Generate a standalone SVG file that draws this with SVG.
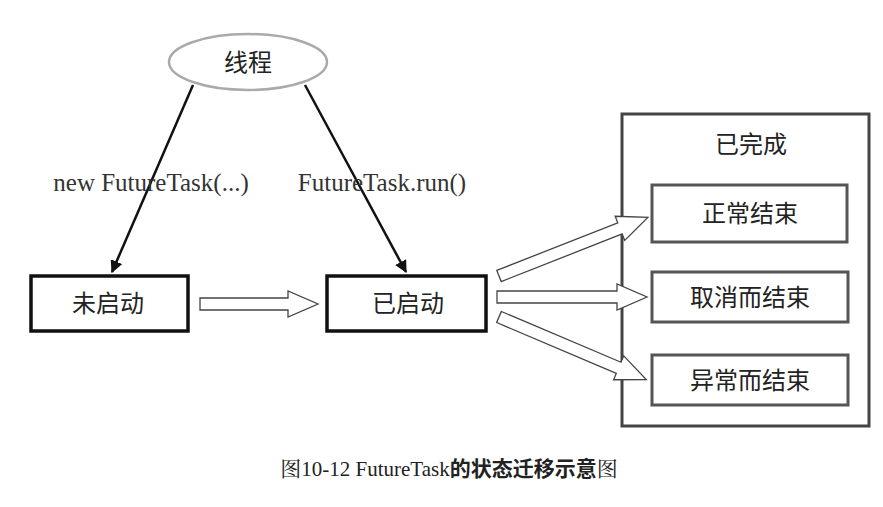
<svg xmlns="http://www.w3.org/2000/svg" width="883" height="507" viewBox="0 0 883 507">
<style>
.cn{font-family:"Liberation Sans","Noto Sans CJK SC",sans-serif;font-size:24px;fill:#222;text-anchor:middle}
.lb{font-family:"Liberation Serif","Noto Serif CJK SC",serif;font-size:25px;fill:#333;text-anchor:middle}
.st{fill:#fff;stroke:#111;stroke-width:3.5}
.in{fill:#fff;stroke:#555;stroke-width:3}
.blk{fill:#fff;stroke:#444;stroke-width:1.3}
</style>
<defs>
<marker id="ah" viewBox="0 0 10 10" refX="9" refY="5" markerWidth="5" markerHeight="5" orient="auto"><path d="M0,0L10,5L0,10z" fill="#111"/></marker>
</defs>
<rect width="883" height="507" fill="#fff"/>
<g id="thread"><ellipse cx="248" cy="62" rx="79" ry="28" fill="#fff" stroke="#aaa" stroke-width="2.5"/><text class="cn" x="248" y="71">线程</text></g>
<g id="notstarted"><rect class="st" x="31" y="276" width="157" height="55"/><text class="cn" x="108" y="312">未启动</text></g>
<g id="started"><rect class="st" x="327" y="276" width="159" height="55"/><text class="cn" x="408" y="312">已启动</text></g>
<g id="done"><rect x="622" y="114" width="247" height="312" fill="#fff" stroke="#444" stroke-width="3"/><text class="cn" x="751" y="153">已完成</text></g>
<g id="normal"><rect class="in" x="652" y="185" width="195" height="57"/><text class="cn" x="750" y="222">正常结束</text></g>
<g id="cancel"><rect class="in" x="652" y="272" width="196" height="50"/><text class="cn" x="750" y="306">取消而结束</text></g>
<g id="except"><rect class="in" x="652" y="355" width="196" height="50"/><text class="cn" x="750" y="389">异常而结束</text></g>
<g id="connectors">
<line x1="193" y1="85" x2="112" y2="272" stroke="#111" stroke-width="2.5" marker-end="url(#ah)"/>
<line x1="305" y1="85" x2="406" y2="272" stroke="#111" stroke-width="2.5" marker-end="url(#ah)"/>
<text class="lb" x="151" y="191">new FutureTask(...)</text>
<text class="lb" x="382" y="191">FutureTask.run()</text>
<polygon class="blk" transform="translate(200,304)" points="0,-6 88,-6 88,-13 118,0 88,13 88,6 0,6"/>
<polygon class="blk" transform="translate(497,297)" points="0,-6 120,-6 120,-13 150,0 120,13 120,6 0,6"/>
<polygon class="blk" transform="translate(499,276) rotate(-21.5)" points="0,-6 130,-6 130,-13 160,0 130,13 130,6 0,6"/>
<polygon class="blk" transform="translate(499,317) rotate(23)" points="0,-6 130,-6 130,-13 160,0 130,13 130,6 0,6"/>
</g>
<text x="449" y="476" font-family="Liberation Serif,Noto Serif CJK SC,Noto Sans CJK SC,serif" font-size="21" fill="#222" text-anchor="middle">图10-12  FutureTask<tspan font-weight="bold" font-family="Noto Sans CJK SC,sans-serif">的状态迁移示意</tspan>图</text>
</svg>
